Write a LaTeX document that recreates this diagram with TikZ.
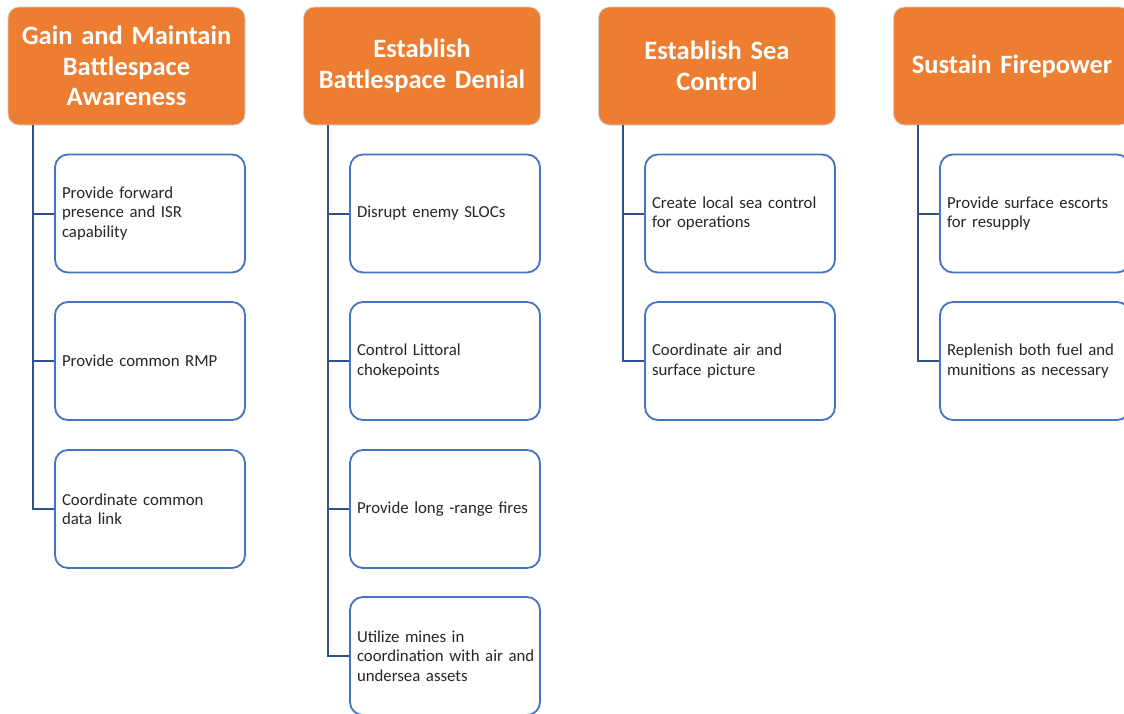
\documentclass[tikz,border=0pt]{standalone}
\usepackage{fontspec}
\setmainfont{Carlito}
\definecolor{headorange}{HTML}{ED7D31}
\definecolor{boxblue}{HTML}{4472C4}
\definecolor{linkblue}{HTML}{2F528F}
\definecolor{bodytext}{HTML}{262626}
\begin{document}
\begin{tikzpicture}[x=1pt,y=-1pt,
  headbox/.style={draw=white!82!black, line width=0.8pt, fill=headorange,
    rounded corners=11pt, minimum width=237pt, minimum height=118pt,
    text width=230pt, align=center, text=white, inner sep=0pt,
    font=\bfseries\fontsize{26.5}{30.5}\selectfont},
  taskbox/.style={draw=boxblue, line width=1.8pt, fill=white,
    rounded corners=13pt, minimum width=190pt, minimum height=118pt,
    text width=180pt, align=left, inner xsep=5pt, inner ysep=0pt,
    text=bodytext, font=\fontsize{16.8}{19.5}\selectfont},
  link/.style={draw=linkblue, line width=2pt}]
\useasboundingbox (0,0) rectangle (1124,713);
\clip (0,0) rectangle (1124,713);

% column headers
\node[headbox] (h1) at (126.5,66) {Gain and Maintain\\Battlespace\\Awareness};
\node[headbox] (h2) at (422,66) {Establish\\Battlespace Denial};
\node[headbox] (h3) at (717,66) {Establish Sea\\Control};
\node[headbox] (h4) at (1012,66) {Sustain Firepower};

% tasks under each header
\node[taskbox] (a1) at (150,213.5) {\hspace*{2pt}Provide forward\\\hspace*{2pt}presence and ISR\\\hspace*{2pt}capability};
\node[taskbox] (a2) at (150,361) {\hspace*{2pt}Provide common RMP};
\node[taskbox] (a3) at (150,509) {\hspace*{2pt}Coordinate common\\\hspace*{2pt}data link};

\node[taskbox] (b1) at (445,213.5) {\hspace*{2pt}Disrupt enemy SLOCs};
\node[taskbox] (b2) at (445,361) {\hspace*{2pt}Control Littoral\\\hspace*{2pt}chokepoints};
\node[taskbox] (b3) at (445,509) {\hspace*{2pt}Provide long -range fires};
\node[taskbox] (b4) at (445,656) {\hspace*{2pt}Utilize mines in\\\hspace*{2pt}coordination with air and\\\hspace*{2pt}undersea assets};

\node[taskbox] (c1) at (740,213.5) {\hspace*{2pt}Create local sea control\\\hspace*{2pt}for operations};
\node[taskbox] (c2) at (740,361) {\hspace*{2pt}Coordinate air and\\\hspace*{2pt}surface picture};

\node[taskbox] (d1) at (1035,213.5) {\hspace*{2pt}Provide surface escorts\\\hspace*{2pt}for resupply};
\node[taskbox] (d2) at (1035,361) {\hspace*{2pt}Replenish both fuel and\\\hspace*{2pt}munitions as necessary};

% trunk-and-branch connectors
\foreach \h/\kids in {h1/{a1,a2,a3}, h2/{b1,b2,b3,b4}, h3/{c1,c2}, h4/{d1,d2}} {
  \foreach \k in \kids {
    \draw[link] ([xshift=25pt]\h.south west) |- (\k.west);
  }
}
\end{tikzpicture}
\end{document}
